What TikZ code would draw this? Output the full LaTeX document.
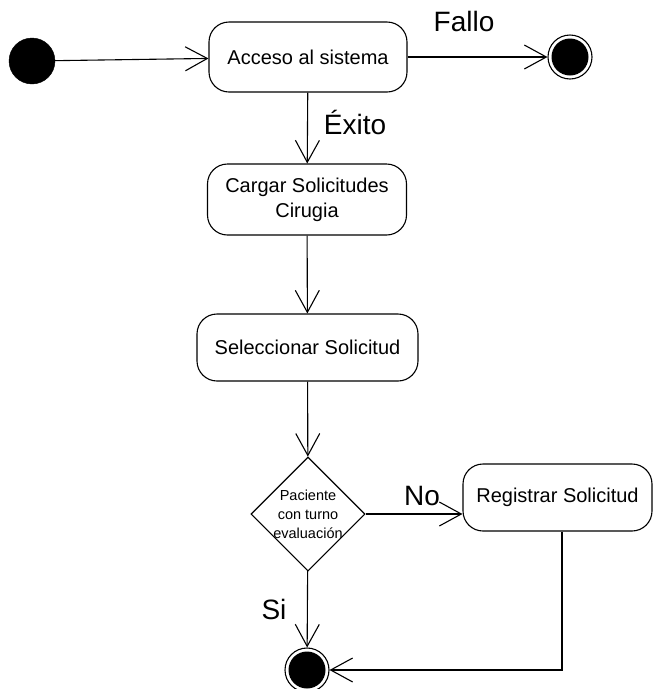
\documentclass[tikz,border=0pt]{standalone}
\usepackage{fontspec}
\setmainfont{Liberation Sans}
\usetikzlibrary{arrows.meta,shapes.geometric}

\tikzset{
  act/.style={draw, line width=1.1pt, rounded corners=20pt, align=center,
    inner sep=0pt, font=\fontsize{20}{25}\selectfont},
  startdot/.style={circle, fill=black, draw=black, minimum size=46pt, inner sep=0pt},
  enddot/.style={circle, draw=black, line width=1.1pt, minimum size=44pt, inner sep=0pt,
    path picture={\fill[black] (path picture bounding box.center) circle[radius=18.5pt];}},
  decision/.style={diamond, draw, line width=1.1pt, minimum width=114pt,
    minimum height=114pt, inner sep=0pt},
  flow/.style={line width=1.1pt, -{Straight Barb[length=22pt,width=24pt]}},
  guard/.style={font=\fontsize{28}{32}\selectfont, inner sep=0pt}
}

\begin{document}
\begin{tikzpicture}[x=1pt,y=-1pt]
  \useasboundingbox (0,0) rectangle (653,689);

  % states
  \node[startdot] (start) at (32,61) {};
  \node[act, minimum width=198pt, minimum height=70pt] (acc) at (308,57) {Acceso al sistema};
  \node[enddot] (fin1) at (570,57) {};
  \node[act, minimum width=199pt, minimum height=71pt] (carg) at (307,199.5) {Cargar Solicitudes\\Cirugia};
  \node[act, minimum width=221pt, minimum height=67pt] (sel) at (307.5,347.5) {Seleccionar Solicitud};
  \node[decision,
    label={[font=\fontsize{14.5}{19}\selectfont, align=center]center:Paciente\\con turno\\evaluación}]
    (dec) at (308,514) {};
  \node[act, minimum width=189pt, minimum height=67pt] (reg) at (557.5,497.5) {Registrar Solicitud};
  \node[enddot] (fin2) at (307,670) {};

  % transitions
  \draw[flow] (start) -- (acc);
  \draw[flow] (acc) -- (fin1);
  \draw[flow] (acc) -- (carg);
  \draw[flow] (carg) -- (sel);
  \draw[flow] (sel) -- (dec);
  \draw[flow] (dec.east) -- (dec.east -| reg.west);
  \draw[flow] (dec) -- (fin2);
  \draw[flow] ([xshift=4.5pt]reg.south) |- (fin2);

  % guards
  \node[guard] (lfallo) at (464,21) {Fallo};
  \node[guard] (lexito) at (355,122) {Éxito};
  \node[guard] (lno) at (422,496) {No};
  \node[guard] (lsi) at (274,609) {Si};
\end{tikzpicture}
\end{document}
